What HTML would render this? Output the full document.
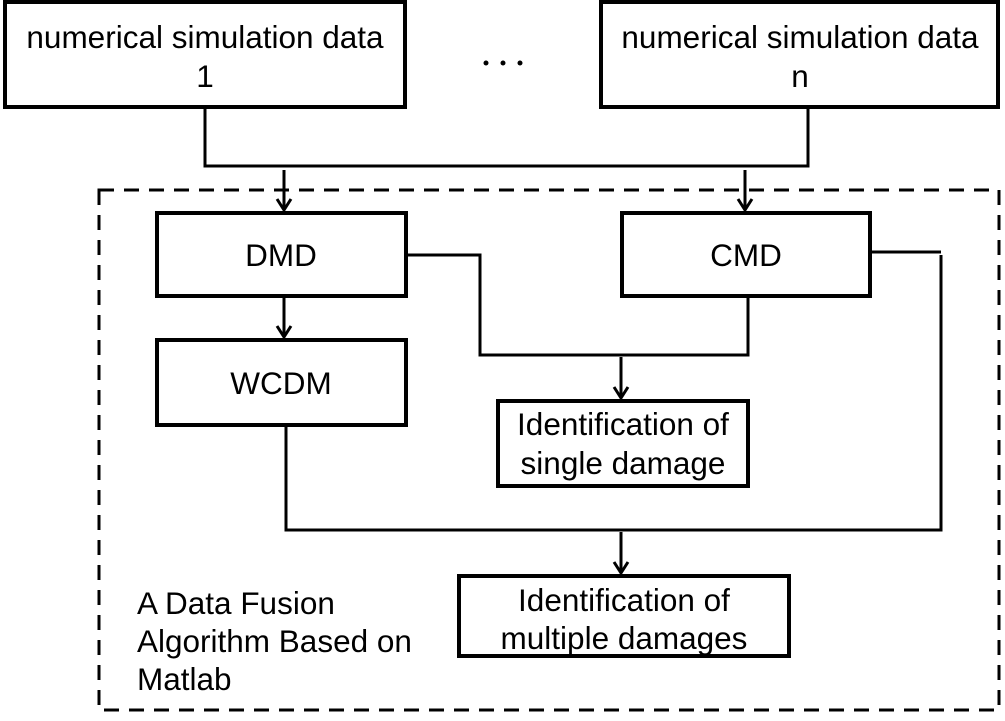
<!DOCTYPE html>
<html><head><style>
body{margin:0;background:#fff;}
</style></head><body>
<svg width="1005" height="716" viewBox="0 0 1005 716" xmlns="http://www.w3.org/2000/svg">
<g fill="none" stroke="#000" stroke-width="4">
<rect x="5" y="2" width="400" height="105"/>
<rect x="601" y="2" width="397" height="105"/>
<rect x="99" y="190" width="900" height="520" stroke-width="3" stroke-dasharray="15 10"/>
<rect x="157" y="213" width="249" height="83"/>
<rect x="622" y="213" width="248" height="83"/>
<rect x="157" y="340" width="249" height="85"/>
<rect x="498" y="401" width="250" height="85"/>
<rect x="459" y="576" width="330" height="80"/>
</g>
<g fill="none" stroke="#000" stroke-width="3">
<path d="M205,107 V166 H808 V107"/>
<path d="M284,170 V210 M277,199 L284,210 L291,199"/>
<path d="M745,170 V210 M738,199 L745,210 L752,199"/>
<path d="M284,296 V337 M277,326 L284,337 L291,326"/>
<path d="M406,255 H480 V355 H748 V296"/>
<path d="M621,357 V398 M614,387 L621,398 L628,387"/>
<path d="M870,252 H941"/>
<path d="M941,255 V530 H286 V425"/>
<path d="M621,532 V573 M614,562 L621,573 L628,562"/>
</g>
<g fill="#000">
<circle cx="486" cy="63" r="2.5"/><circle cx="503" cy="63" r="2.5"/><circle cx="520" cy="63" r="2.5"/>
</g>
<g font-family="'Liberation Sans', Arial, Helvetica, sans-serif" font-size="31.5" fill="#000">
<text x="205" y="48" text-anchor="middle">numerical simulation data</text>
<text x="205" y="87" text-anchor="middle">1</text>
<text x="800" y="48" text-anchor="middle">numerical simulation data</text>
<text x="800" y="87" text-anchor="middle">n</text>
<text x="281" y="266" text-anchor="middle">DMD</text>
<text x="746" y="266" text-anchor="middle">CMD</text>
<text x="281" y="394" text-anchor="middle">WCDM</text>
<text x="623" y="435" text-anchor="middle">Identification of</text>
<text x="623" y="474" text-anchor="middle">single damage</text>
<text x="624" y="611" text-anchor="middle">Identification of</text>
<text x="624" y="649" text-anchor="middle">multiple damages</text>
<text x="137" y="614">A Data Fusion</text>
<text x="137" y="652">Algorithm Based on</text>
<text x="137" y="690">Matlab</text>
</g>
</svg>
</body></html>
